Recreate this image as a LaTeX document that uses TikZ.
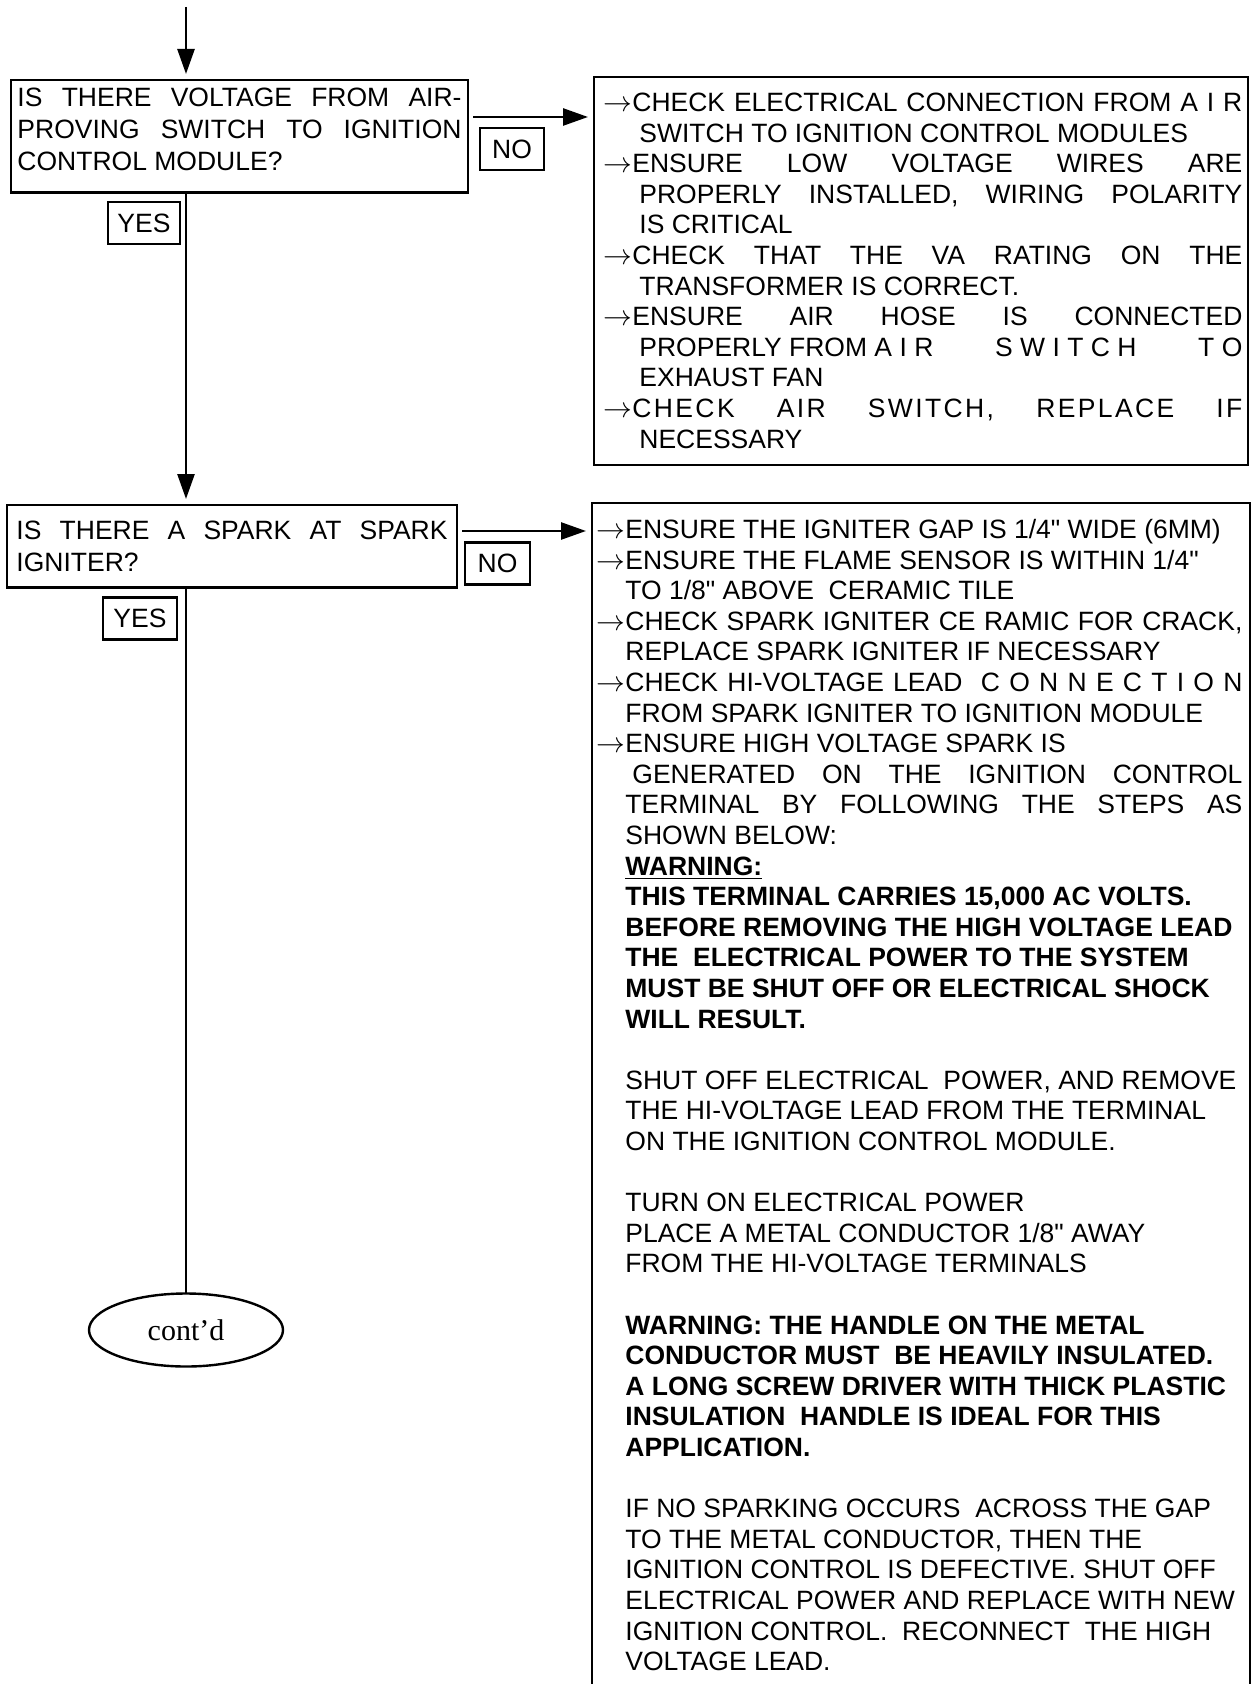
\documentclass[tikz,border=0pt]{standalone}
\usepackage{fontspec}
\setmainfont{Liberation Sans}[Ligatures=TeXOff]
\newfontfamily\contfont{Liberation Serif}
\usetikzlibrary{positioning,shapes.geometric,arrows.meta}

\newcommand{\jl}[2][0pt]{\hspace*{#1}\makebox[\dimexpr\linewidth-#1\relax][s]{#2}}
\newcommand{\lowpad}[1]{\rule[-#1]{0pt}{#1}}
\newcommand{\ar}{\leavevmode\llap{$\rightarrow$}}
\hyphenpenalty=10000
\exhyphenpenalty=10000

\begin{document}
\begin{tikzpicture}[x=0.5pt,y=-0.5pt,
  qbox/.style={draw,line width=1.3pt,outer sep=0pt,anchor=north west,inner xsep=0pt,align=justify,font=\fontsize{13.25pt}{16pt}\selectfont},
  lbl/.style={draw,line width=1.3pt,outer sep=0pt,inner sep=0pt,minimum height=21pt,font=\fontsize{13.25pt}{16pt}\selectfont},
  fixbox/.style={draw,line width=1.3pt,outer sep=0pt,anchor=north west},
  fixtxt/.style={inner sep=0pt,anchor=base west,align=justify,font=\fontsize{13.25pt}{15.3pt}\selectfont},
  arr/.style={line width=1.3pt,-{Triangle[length=12.5pt,width=8.5pt]},shorten >=3pt}]
\useasboundingbox (0,0) rectangle (1254,1684);
\coordinate (top) at (186,7);
\node[qbox,text width=222pt,minimum width=228.5pt,inner ysep=4pt] (q1) at (11,80)
  {\jl{IS THERE VOLTAGE FROM AIR-}\\
   \jl{PROVING SWITCH TO IGNITION}\\
   CONTROL MODULE?\lowpad{7pt}};
\node[qbox,text width=215.5pt,minimum width=225pt,inner ysep=8pt] (q2) at (7,505)
  {\jl{IS THERE A SPARK AT SPARK}\\
   IGNITER?};
\node[lbl,minimum width=36pt] (yes1) at (144,223) {YES};
\node[lbl,minimum width=32pt] (no1) at (512,149) {NO};
\node[lbl,minimum width=37pt] (yes2) at (140,618.5) {YES};
\node[lbl,minimum width=32.5pt] (no2) at (497.5,563.5) {NO};
\node[fixbox,minimum width=327pt,minimum height=194pt] (fix1) at (594,77) {};
\node[fixbox,minimum width=329pt,minimum height=600pt] (fix2) at (592,503) {};
\node[fixtxt,text width=305pt] (fix1txt) at ([xshift=19pt,yshift=-17.25pt]fix1.north west)
  {\ar\jl{CHECK ELECTRICAL CONNECTION FROM A I R}\\
   \hspace*{3.5pt}SWITCH TO IGNITION CONTROL MODULES\\
   \ar\jl{ENSURE LOW VOLTAGE WIRES ARE}\\
   \jl[3.5pt]{PROPERLY INSTALLED, WIRING POLARITY}\\
   \hspace*{3.5pt}IS CRITICAL\\
   \ar\jl{CHECK THAT THE VA RATING ON THE}\\
   \hspace*{3.5pt}TRANSFORMER IS CORRECT.\\
   \ar\jl{ENSURE AIR HOSE IS CONNECTED}\\
   \jl[3.5pt]{PROPERLY FROM A I R\hfill S W I T C H\hfill T O}\\
   \hspace*{3.5pt}EXHAUST FAN\\
   \ar\jl{\addfontfeature{LetterSpace=9}CHECK AIR SWITCH, REPLACE IF}\\
   \hspace*{3.5pt}NECESSARY};
\node[fixtxt,text width=308.5pt] (fix2txt) at ([xshift=16.5pt,yshift=-17.75pt]fix2.north west)
  {\ar ENSURE THE IGNITER GAP IS 1/4" WIDE (6MM)\\
   \ar ENSURE THE FLAME SENSOR IS WITHIN 1/4"\\
   TO 1/8" ABOVE\ \ CERAMIC TILE\\
   \ar\jl{CHECK SPARK IGNITER CE RAMIC FOR CRACK,}\\
   REPLACE SPARK IGNITER IF NECESSARY\\
   \ar\jl{CHECK HI-VOLTAGE LEAD\ \ C O N N E C T I O N}\\
   FROM SPARK IGNITER TO IGNITION MODULE\\
   \ar ENSURE HIGH VOLTAGE SPARK IS\\
   \jl[3.5pt]{GENERATED ON THE IGNITION CONTROL}\\
   \jl{TERMINAL BY FOLLOWING THE STEPS AS}\\
   SHOWN BELOW:\\
   \textbf{\underline{WARNING:}}\\
   \textbf{THIS TERMINAL CARRIES 15,000 AC VOLTS.}\\
   \textbf{BEFORE REMOVING THE HIGH VOLTAGE LEAD}\\
   \textbf{THE\ \ ELECTRICAL POWER TO THE SYSTEM}\\
   \textbf{MUST BE SHUT OFF OR ELECTRICAL SHOCK}\\
   \textbf{WILL RESULT.}\\[15.3pt]
   SHUT OFF ELECTRICAL\ \ POWER, AND REMOVE\\
   THE HI-VOLTAGE LEAD FROM THE TERMINAL\\
   ON THE IGNITION CONTROL MODULE.\\[15.3pt]
   TURN ON ELECTRICAL POWER\\
   PLACE A METAL CONDUCTOR 1/8" AWAY\\
   FROM THE HI-VOLTAGE TERMINALS\\[15.3pt]
   \textbf{WARNING: THE HANDLE ON THE METAL}\\
   \textbf{CONDUCTOR MUST\ \ BE HEAVILY INSULATED.}\\
   \textbf{A LONG SCREW DRIVER WITH THICK PLASTIC}\\
   \textbf{INSULATION\ \ HANDLE IS IDEAL FOR THIS}\\
   \textbf{APPLICATION.}\\[15.3pt]
   IF NO SPARKING OCCURS\ \ ACROSS THE GAP\\
   TO THE METAL CONDUCTOR, THEN THE\\
   IGNITION CONTROL IS DEFECTIVE. SHUT OFF\\
   ELECTRICAL POWER AND REPLACE WITH NEW\\
   IGNITION CONTROL.\ \ RECONNECT\ \ THE HIGH\\
   VOLTAGE LEAD.};
\node[draw,ellipse,line width=1.2pt,outer sep=0pt,inner sep=0pt,minimum width=97pt,minimum height=36.5pt,font=\contfont\fontsize{15pt}{18pt}\selectfont] (cont) at (186,1330) {cont’d};
\draw[arr] (top) -- (top |- q1.north);
\draw[arr,shorten <=2.5pt] ([yshift=-18.5pt]q1.north east) -- ([yshift=-18.5pt]q1.north east -| fix1.west);
\draw[arr] (q1.south -| top) -- (q2.north -| top);
\draw[arr,shorten <=2.5pt] ([yshift=-13pt]q2.north east) -- ([yshift=-13pt]q2.north east -| fix2.west);
\draw[line width=1.3pt] (q2.south -| top) -- (cont.north);
\end{tikzpicture}
\end{document}
